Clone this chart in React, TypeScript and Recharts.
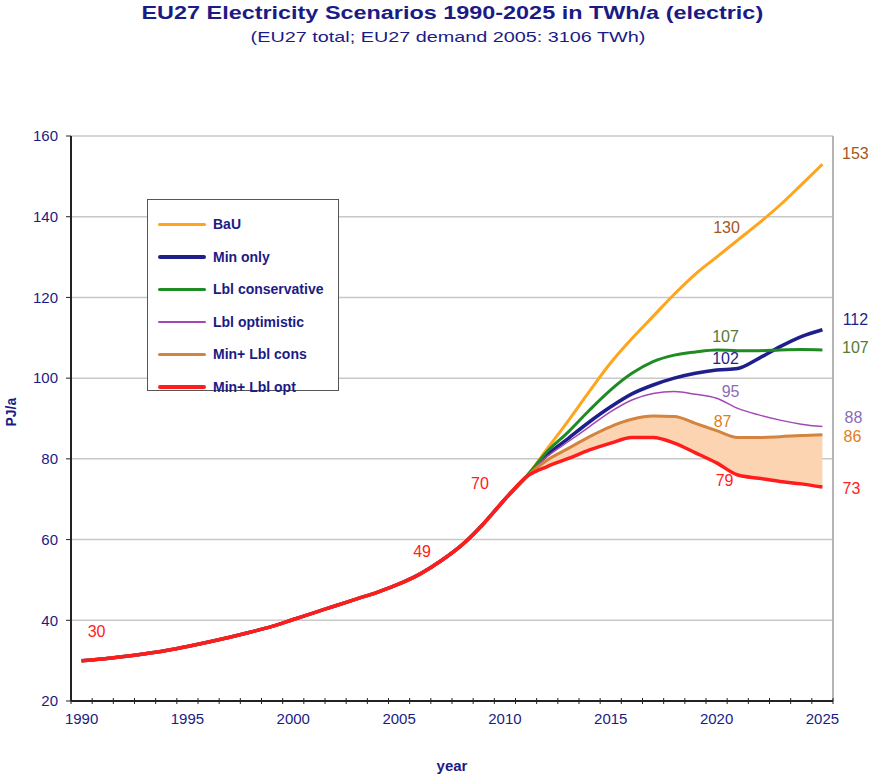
import {
  ComposedChart,
  Line,
  Area,
  XAxis,
  YAxis,
  CartesianGrid,
  Legend,
  LabelList,
  ReferenceLine,
  Label,
} from 'recharts';

// shared history, 1990-2011
const historyYears = [
  1990, 1991, 1992, 1993, 1994, 1995, 1996, 1997, 1998, 1999, 2000,
  2001, 2002, 2003, 2004, 2005, 2006, 2007, 2008, 2009, 2010, 2011,
];
const history = [
  30.0, 30.4, 31.0, 31.7, 32.5, 33.5, 34.6, 35.8, 37.1, 38.5, 40.2,
  41.9, 43.6, 45.3, 47.0, 49.0, 51.5, 54.8, 58.8, 64.0, 70.0, 75.5,
];

// scenarios, 2012-2025
const scenarioYears = [
  2012, 2013, 2014, 2015, 2016, 2017, 2018, 2019, 2020, 2021, 2022, 2023, 2024, 2025,
];
const bau = [82.5, 89.5, 96.8, 103.8, 109.8, 115.3, 120.8, 125.8, 130.0, 134.2, 138.4, 142.9, 147.9, 153.0];
const minOnly = [81.0, 85.1, 89.2, 92.9, 96.1, 98.3, 100.0, 101.2, 102.0, 102.4, 104.9, 107.8, 110.3, 112.0];
const lblCons = [81.8, 86.7, 92.1, 97.1, 101.2, 104.1, 105.7, 106.5, 107.0, 106.8, 106.8, 107.0, 107.1, 107.0];
const lblOpt = [80.6, 84.3, 88.0, 91.7, 94.6, 96.2, 96.7, 96.0, 95.0, 92.5, 90.9, 89.6, 88.6, 88.0];
const minLblCons = [79.7, 82.6, 85.5, 88.0, 89.8, 90.6, 90.5, 88.8, 87.0, 85.3, 85.3, 85.5, 85.8, 86.0];
const minLblOpt = [78.1, 80.1, 82.2, 83.9, 85.3, 85.3, 83.9, 81.5, 79.0, 76.0, 75.2, 74.4, 73.8, 73.0];

const yTicks = [20, 40, 60, 80, 100, 120, 140, 160];
const xLabelTicks = [1990, 1995, 2000, 2005, 2010, 2015, 2020, 2025];

const NAVY = '#1b1b86';
const FONT = 'Liberation Sans, Arial, sans-serif';

type Series = {
  key: string;
  name: string;
  values: number[];
  color: string;
  width: number;
  labelColor: string;
  labels: Record<number, [number, number]>;
};

const series: Series[] = [
  { key: 'bau', name: 'BaU', values: bau, color: '#ffa41c', width: 3, labelColor: '#a4561c',
    labels: { 2020: [10, -30], 2025: [33, -11] } },
  { key: 'minOnly', name: 'Min only', values: minOnly, color: '#1f1f8c', width: 3.5, labelColor: '#1f1f8c',
    labels: { 2020: [9, -12], 2025: [33, -10] } },
  { key: 'lblCons', name: 'Lbl conservative', values: lblCons, color: '#1e8c22', width: 3, labelColor: '#557a34',
    labels: { 2020: [9, -13], 2025: [33, -2] } },
  { key: 'lblOpt', name: 'Lbl optimistic', values: lblOpt, color: '#a148b4', width: 1.5, labelColor: '#8b6bb8',
    labels: { 2020: [14, -7], 2025: [31, -9] } },
  { key: 'minLblCons', name: 'Min+ Lbl cons', values: minLblCons, color: '#d4843e', width: 3, labelColor: '#e47c20',
    labels: { 2020: [6, -9], 2025: [30, 2] } },
  { key: 'minLblOpt', name: 'Min+ Lbl opt', values: minLblOpt, color: '#ff1c1c', width: 3.5, labelColor: '#ff2020',
    labels: { 1990: [15, -29], 2005: [23, -32], 2010: [-25, -16], 2020: [8, 18], 2025: [29, 1] } },
];

type Row = Record<string, number | number[] | undefined>;

const rows: Row[] = [
  ...historyYears.map((year, i) => {
    const row: Row = { year };
    series.forEach((s) => (row[s.key] = history[i]));
    if (year === 2011) row.band = [history[i], history[i]];
    return row;
  }),
  ...scenarioYears.map((year, i) => {
    const row: Row = { year };
    series.forEach((s) => (row[s.key] = s.values[i]));
    row.band = [minLblOpt[i], minLblCons[i]];
    return row;
  }),
];

// tick marks sit on the boundaries between the yearly categories
const boundaryTicks = [...historyYears, ...scenarioYears].map((y) => y - 0.5).concat(2025.5);

function valueLabel(s: Series) {
  return (props: any) => {
    const { x, y, value, index } = props;
    const year = rows[index]?.year as number;
    const off = s.labels[year];
    if (!off || value == null) return null;
    return (
      <text
        key={`${s.key}-${year}`}
        x={x + off[0]}
        y={y + off[1]}
        fill={s.labelColor}
        fontSize={16}
        fontFamily={FONT}
        textAnchor="middle"
        dominantBaseline="central"
      >
        {Math.round(value)}
      </text>
    );
  };
}

function LegendBox() {
  return (
    <div
      style={{
        width: 192,
        height: 192,
        boxSizing: 'border-box',
        border: '1.5px solid #555',
        background: '#fff',
        padding: '8px 0 0 10px',
        fontFamily: FONT,
      }}
    >
      {series.map((s) => (
        <div key={s.key} style={{ display: 'flex', alignItems: 'center', height: 32.5 }}>
          <div style={{ width: 48, height: s.width, background: s.color, borderRadius: 2, flexShrink: 0 }} />
          <span style={{ marginLeft: 7, fontSize: 14, fontWeight: 'bold', color: NAVY, whiteSpace: 'nowrap' }}>
            {s.name}
          </span>
        </div>
      ))}
    </div>
  );
}

export default function App() {
  return (
    <div style={{ position: 'absolute', left: 0, top: 0, width: 875, height: 780, background: '#fff' }}>
      <div
        style={{
          position: 'absolute', left: 0, top: 3, width: 905, textAlign: 'center',
          fontFamily: FONT, fontWeight: 'bold', fontSize: 18, color: NAVY,
          transform: 'scaleX(1.3)', transformOrigin: '453px 0',
        }}
      >
        EU27 Electricity Scenarios 1990-2025 in TWh/a (electric)
      </div>
      <div
        style={{
          position: 'absolute', left: 0, top: 28, width: 896, textAlign: 'center',
          fontFamily: FONT, fontSize: 15, color: NAVY,
          transform: 'scaleX(1.32)', transformOrigin: '448px 0',
        }}
      >
        (EU27 total; EU27 demand 2005: 3106 TWh)
      </div>
      <ComposedChart
        width={875}
        height={780}
        data={rows}
        margin={{ top: 136, right: 42, left: 11, bottom: 0 }}
        style={{ position: 'absolute', left: 0, top: 0 }}
      >
        <CartesianGrid vertical={false} stroke="#c8c8c8" strokeWidth={1.5} />
        <XAxis
          xAxisId="base"
          dataKey="year"
          type="number"
          domain={[1989.5, 2025.5]}
          ticks={boundaryTicks}
          interval={0}
          tick={() => <g />}
          height={6}
          tickSize={6}
          axisLine={{ stroke: '#222', strokeWidth: 2 }}
          tickLine={{ stroke: '#222', transform: 'translate(0,-3)' }}
        />
        <XAxis
          xAxisId="labels"
          dataKey="year"
          type="number"
          domain={[1989.5, 2025.5]}
          ticks={xLabelTicks}
          interval={0}
          height={73}
          tickSize={0}
          tickMargin={6}
          axisLine={false}
          tickLine={false}
          tick={{ fill: NAVY, fontSize: 15, fontFamily: FONT }}
        >
          <Label
            value="year"
            position="insideBottom"
            offset={9}
            fill={NAVY}
            fontSize={15}
            fontWeight="bold"
            fontFamily={FONT}
          />
        </XAxis>
        <YAxis
          domain={[20, 160]}
          ticks={yTicks}
          interval={0}
          width={60}
          tickSize={5}
          tickMargin={8}
          axisLine={{ stroke: '#222', strokeWidth: 2 }}
          tickLine={{ stroke: '#222' }}
          tick={{ fill: NAVY, fontSize: 15, fontFamily: FONT }}
        >
          <Label
            value="PJ/a"
            angle={-90}
            position="insideLeft"
            offset={0}
            dy={8}
            fill={NAVY}
            fontSize={14}
            fontWeight="bold"
            fontFamily={FONT}
          />
        </YAxis>
        <ReferenceLine xAxisId="base" x={2025.5} stroke="#b4b4b4" strokeWidth={2} />
        <Area
          xAxisId="base"
          type="monotone"
          dataKey="band"
          stroke="none"
          fill="#fcd4b2"
          fillOpacity={1}
          legendType="none"
          isAnimationActive={false}
        />
        {series.map((s) => (
          <Line
            key={s.key}
            xAxisId="base"
            type="monotone"
            dataKey={s.key}
            name={s.name}
            stroke={s.color}
            strokeWidth={s.width}
            dot={false}
            activeDot={false}
            isAnimationActive={false}
          >
            <LabelList dataKey={s.key} content={valueLabel(s)} />
          </Line>
        ))}
        <Legend
          layout="vertical"
          align="center"
          verticalAlign="middle"
          content={() => <LegendBox />}
          wrapperStyle={{ left: 147, top: 199, width: 192, height: 192 }}
        />
      </ComposedChart>
    </div>
  );
}
